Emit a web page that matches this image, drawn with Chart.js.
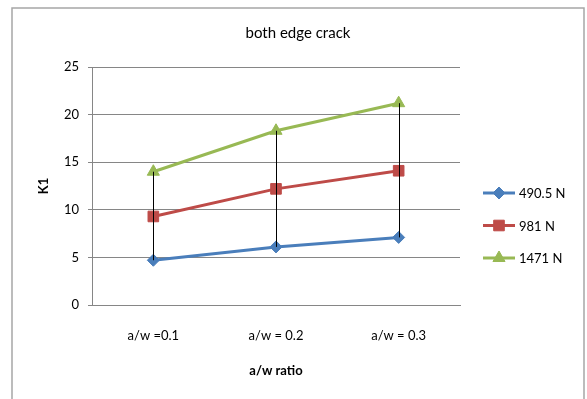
<!DOCTYPE html>
<html>
<head>
<meta charset="utf-8">
<script src="https://cdn.jsdelivr.net/npm/chart.js"></script>
<style>
  html, body { margin: 0; padding: 0; background: #fff; }
  #wrap { width: 587px; height: 399px; position: relative; }
</style>
</head>
<body>
<div id="wrap"><canvas id="kChart" width="587" height="399"></canvas></div>
<script>
var categories = ["a/w =0.1", "a/w = 0.2", "a/w = 0.3"];
var seriesNames = ["490.5 N", "981 N", "1471 N"];
var load490 = [4.7, 6.1, 7.1];
var load981 = [9.3, 12.2, 14.1];
var load1471 = [14.0, 18.3, 21.2];
var yTicks = [0, 5, 10, 15, 20, 25];

var FONT = "Lato, 'Open Sans', sans-serif";
var colors = ["#4A7EBB", "#BE4B48", "#98B954"];
var markers = ["rectRot", "rect", "triangle"];
var radii = [6, 7.5, 7];

// frame, titles and legend drawn around the plot
var frame = {
    id: 'frame',
    beforeDraw: function(chart) {
        var ctx = chart.ctx;
        ctx.save();
        ctx.fillStyle = '#fff';
        ctx.fillRect(0, 0, chart.width, chart.height);
        ctx.strokeStyle = '#A6A6A6';
        ctx.lineWidth = 1.5;
        ctx.beginPath();
        ctx.moveTo(12, chart.height);
        ctx.lineTo(12, 8);
        ctx.lineTo(584, 8);
        ctx.lineTo(584, chart.height);
        ctx.stroke();
        ctx.restore();
    },
    afterDraw: function(chart) {
        var ctx = chart.ctx;
        var area = chart.chartArea;
        ctx.save();
        ctx.fillStyle = '#000';
        ctx.textAlign = 'center';
        ctx.textBaseline = 'middle';
        ctx.font = "15px " + FONT;
        ctx.fillText("both edge crack", 298, 33);

        ctx.font = "bold 13px " + FONT;
        ctx.fillText("a/w ratio", (area.left + area.right) / 2, 371);
        ctx.save();
        ctx.translate(44, (area.top + area.bottom) / 2);
        ctx.rotate(-Math.PI / 2);
        ctx.fillText("K1", 0, 0);
        ctx.restore();

        // legend
        ctx.textAlign = 'left';
        ctx.font = "13px " + FONT;
        chart.data.datasets.forEach(function(ds, i) {
            var y = 193 + i * 32.5;
            ctx.strokeStyle = ds.borderColor;
            ctx.lineWidth = 3;
            ctx.beginPath();
            ctx.moveTo(483, y);
            ctx.lineTo(515, y);
            ctx.stroke();
            ctx.fillStyle = ds.backgroundColor;
            ctx.strokeStyle = ds.borderColor;
            ctx.lineWidth = 1;
            Chart.helpers.drawPoint(ctx, {pointStyle: ds.pointStyle, radius: ds.pointRadius, rotation: 0, borderWidth: 1}, 499, y);
            ctx.fillStyle = '#000';
            ctx.fillText(ds.label, 519, y + 1);
        });
        ctx.restore();
    }
};

// high-low lines between lowest and highest series at each category
var hiLo = {
    id: 'hiLo',
    afterDatasetsDraw: function(chart) {
        var ctx = chart.ctx;
        var xs = chart.scales.x, ys = chart.scales.y;
        ctx.save();
        ctx.strokeStyle = '#000';
        ctx.lineWidth = 1;
        categories.forEach(function(c, i) {
            var vals = chart.data.datasets.map(function(ds) { return ds.data[i]; });
            var x = Math.round(xs.getPixelForValue(i)) + 0.5;
            ctx.beginPath();
            ctx.moveTo(x, ys.getPixelForValue(Math.max.apply(null, vals)));
            ctx.lineTo(x, ys.getPixelForValue(Math.min.apply(null, vals)));
            ctx.stroke();
        });
        ctx.restore();
    }
};

var datasets = [load490, load981, load1471].map(function(vals, i) {
    return {
        label: seriesNames[i],
        data: vals,
        borderColor: colors[i],
        backgroundColor: colors[i],
        borderWidth: 3,
        pointStyle: markers[i],
        pointRadius: radii[i],
        pointBorderWidth: 1,
        tension: 0
    };
});

var ctx = document.getElementById('kChart');
var kChart = new Chart(ctx, {
    type: 'line',
    data: { labels: categories, datasets: datasets },
    plugins: [frame, hiLo],
    options: {
        responsive: false,
        animation: false,
        layout: { padding: { left: 0, top: 67, right: 127, bottom: 0 } },
        plugins: {
            legend: { display: false },
            title: { display: false },
            tooltip: { enabled: false }
        },
        scales: {
            x: {
                offset: true,
                grid: { display: false, drawTicks: false },
                border: { color: '#868686', width: 1 },
                ticks: { color: '#000', font: { family: FONT, size: 13 }, padding: 23, maxRotation: 0 },
                afterFit: function(scale) { scale.height = 94; }
            },
            y: {
                min: 0,
                max: 25,
                afterBuildTicks: function(scale) {
                    scale.ticks = yTicks.map(function(v) { return { value: v }; });
                },
                grid: { color: '#868686', lineWidth: 1, tickLength: 4 },
                border: { color: '#868686', width: 1 },
                ticks: { color: '#000', font: { family: FONT, size: 13 }, padding: 9 },
                afterFit: function(scale) { scale.width = 92; }
            }
        }
    }
});
</script>
</body>
</html>
